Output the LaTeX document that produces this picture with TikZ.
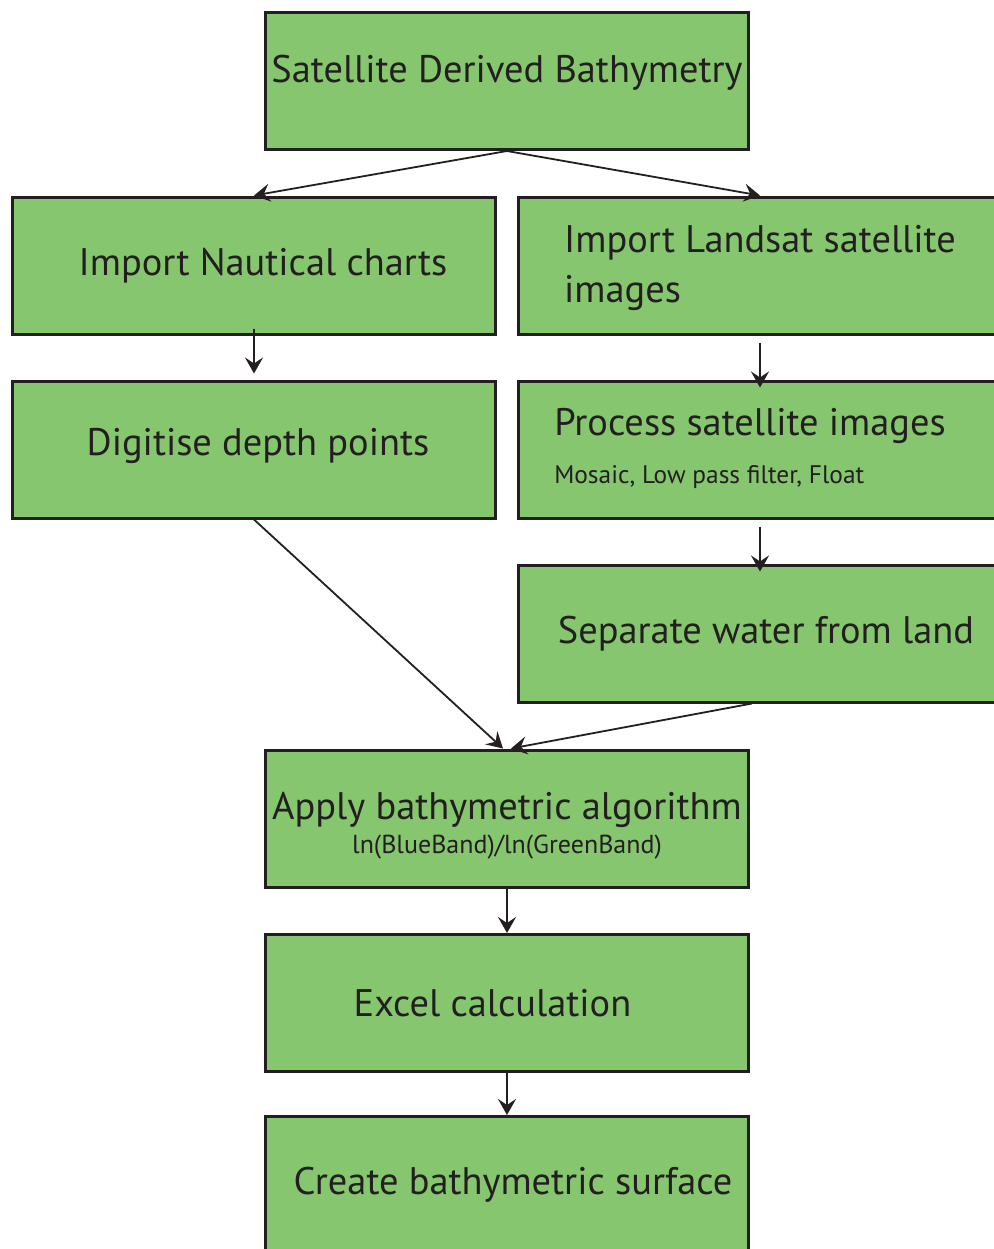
\documentclass[tikz,border=0pt]{standalone}
\usepackage{fontspec}
\setsansfont{PT Sans}
\usepackage{tikz}
\usetikzlibrary{arrows.meta,positioning,calc}
\usepackage{xcolor}
\definecolor{Leaf}{HTML}{85C66F}
\definecolor{Ink}{HTML}{231F20}
\newcommand{\StageBox}[4]{%
  \node[stage] (#1) at (#2,#3) {#4};%
}
\newcommand{\Lift}[2]{\raisebox{#1}[\height][\depth]{#2}}

\begin{document}
\begin{tikzpicture}[x=0.5pt,y=-0.5pt,
  stage/.style={draw=Ink,fill=Leaf,line width=1.5pt,minimum width=241.5pt,
    minimum height=68.5pt,inner sep=0pt,text=Ink,
    font=\sffamily\fontsize{19.2}{25}\selectfont},
  flow/.style={draw=Ink,line width=0.9pt,-{Stealth[length=8pt,width=9pt,inset=3pt]}}]
\useasboundingbox (0,0) rectangle (994,1249);
\clip (0,0) rectangle (994,1249);
\StageBox{sdb}{507}{81}{\Lift{4.25pt}{Satellite Derived Bathymetry}}
\StageBox{naut}{254}{265.5}{\hspace*{9pt}Import Nautical charts}
\StageBox{land}{760}{265.5}{\Lift{-1pt}{\begin{tabular}{@{}l@{}}Import Landsat satellite\\ images\end{tabular}}}
\StageBox{digit}{254}{449.5}{\hspace*{4pt}\Lift{2pt}{Digitise depth points}}
\StageBox{proc}{760}{449.5}{\hspace*{-10pt}\begin{tabular}{@{}l@{}}Process satellite images\\[-1pt]
  {\fontsize{12.7}{14}\selectfont Mosaic, Low pass filter, Float}\end{tabular}}
\StageBox{sep}{760}{633.5}{\hspace*{6pt}Separate water from land}
\StageBox{algo}{507}{818.5}{\Lift{-3.75pt}{\begin{tabular}{@{}c@{}}Apply bathymetric algorithm\\[-8pt]
  {\fontsize{13}{14}\selectfont ln(BlueBand)/ln(GreenBand)}\end{tabular}}}
\StageBox{excel}{507}{1003}{\hspace*{-14.5pt}Excel calculation}
\StageBox{surf}{507}{1185}{\hspace*{6pt}Create bathymetric surface}
% branches from the title
\draw[flow] (sdb.south) -- (naut.north);
\draw[flow] (sdb.south) -- (land.north);
% left column
\draw[flow] ([yshift=3.5pt]naut.south) -- ([yshift=3pt]digit.north);
\draw[flow] (digit.south) -- ([xshift=-2pt]algo.north);
% right column
\draw[flow] ([yshift=-3.5pt]land.south) -- ([yshift=-4pt]proc.north);
\draw[flow] ([yshift=-3.5pt]proc.south) -- ([yshift=-4pt]sep.north);
\draw[flow] ([xshift=-4pt]sep.south) -- ([xshift=2pt]algo.north);
% lower chain
\foreach \a/\b in {algo/excel,excel/surf}
  \draw[flow] (\a.south) -- (\b.north);
\end{tikzpicture}
\end{document}
